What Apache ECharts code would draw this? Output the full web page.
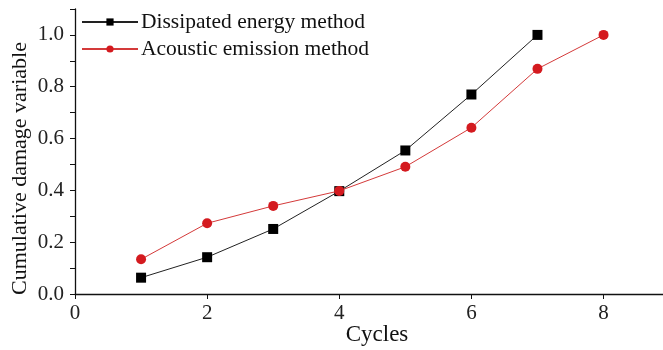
<!DOCTYPE html>
<html>
<head>
<meta charset="utf-8">
<script src="https://cdn.jsdelivr.net/npm/echarts@6/dist/echarts.min.js"></script>
<style>
  html, body { margin: 0; padding: 0; background: #fff; }
  #chart { width: 663px; height: 350px; }
</style>
</head>
<body>
<div id="chart"></div>
<script>
// Cycle numbers and cumulative damage values for the two methods
const cycles = [1, 2, 3, 4, 5, 6, 7, 8];
const dissipatedEnergy = [0.063, 0.142, 0.251, 0.397, 0.554, 0.770, 1.0];
const acousticEmission = [0.134, 0.273, 0.340, 0.398, 0.491, 0.642, 0.869, 1.0];
const seriesNames = ['Dissipated energy method', 'Acoustic emission method'];
const xTicks = [0, 2, 4, 6, 8];
const yTicks = [0, 0.2, 0.4, 0.6, 0.8, 1.0];

const font = 'Liberation Serif, Times New Roman, serif';

function pairs(values) {
  return values.map((v, i) => [cycles[i], v]);
}

const chart = echarts.init(document.getElementById('chart'));
chart.setOption({
  animation: false,
  backgroundColor: '#fff',
  textStyle: { fontFamily: font },
  grid: { left: 75, right: 0, top: 9, bottom: 56, containLabel: false, outerBoundsMode: 'none' },
  legend: {
    left: 76,
    top: 6,
    orient: 'vertical',
    itemWidth: 56,
    itemHeight: 9,
    itemGap: 5,
    textStyle: { fontFamily: font, fontSize: 21.5, color: '#111', padding: [0, 0, 0, -2] },
    data: seriesNames
  },
  xAxis: {
    type: 'value',
    min: 0,
    max: 8.9,
    interval: 1,
    name: 'Cycles',
    nameLocation: 'middle',
    nameGap: 29,
    nameMoveOverlap: false,
    nameTextStyle: { fontFamily: font, fontSize: 23, color: '#111', padding: [0, 0, 0, 16] },
    axisLine: { show: true, lineStyle: { color: '#111', width: 1.3 } },
    axisTick: { show: true, inside: false, length: 5, customValues: xTicks, lineStyle: { color: '#111' } },
    axisLabel: { customValues: xTicks, fontFamily: font, fontSize: 21, color: '#222', margin: 9 },
    splitLine: { show: false }
  },
  yAxis: {
    type: 'value',
    min: 0,
    max: 1.1,
    interval: 0.1,
    name: 'Cumulative damage variable',
    nameLocation: 'middle',
    nameGap: 44,
    nameMoveOverlap: false,
    nameTextStyle: { fontFamily: font, fontSize: 22, color: '#111', padding: [0, 34, 0, 0] },
    axisLine: { show: true, lineStyle: { color: '#111', width: 1.3 } },
    axisTick: { show: true, inside: false, length: 5, lineStyle: { color: '#111' } },
    axisLabel: {
      customValues: yTicks,
      fontFamily: font, fontSize: 21, color: '#222', margin: 11,
      formatter: v => v.toFixed(1)
    },
    splitLine: { show: false }
  },
  series: [
    {
      name: seriesNames[0],
      type: 'line',
      data: pairs(dissipatedEnergy),
      symbol: 'rect',
      symbolSize: 10,
      itemStyle: { color: '#000' },
      lineStyle: { color: '#222', width: 1 },
      z: 2
    },
    {
      name: seriesNames[1],
      type: 'line',
      data: pairs(acousticEmission),
      symbol: 'circle',
      symbolSize: 10,
      itemStyle: { color: '#d41a1f' },
      lineStyle: { color: '#d43a3a', width: 1 },
      z: 3
    }
  ]
});
</script>
</body>
</html>
